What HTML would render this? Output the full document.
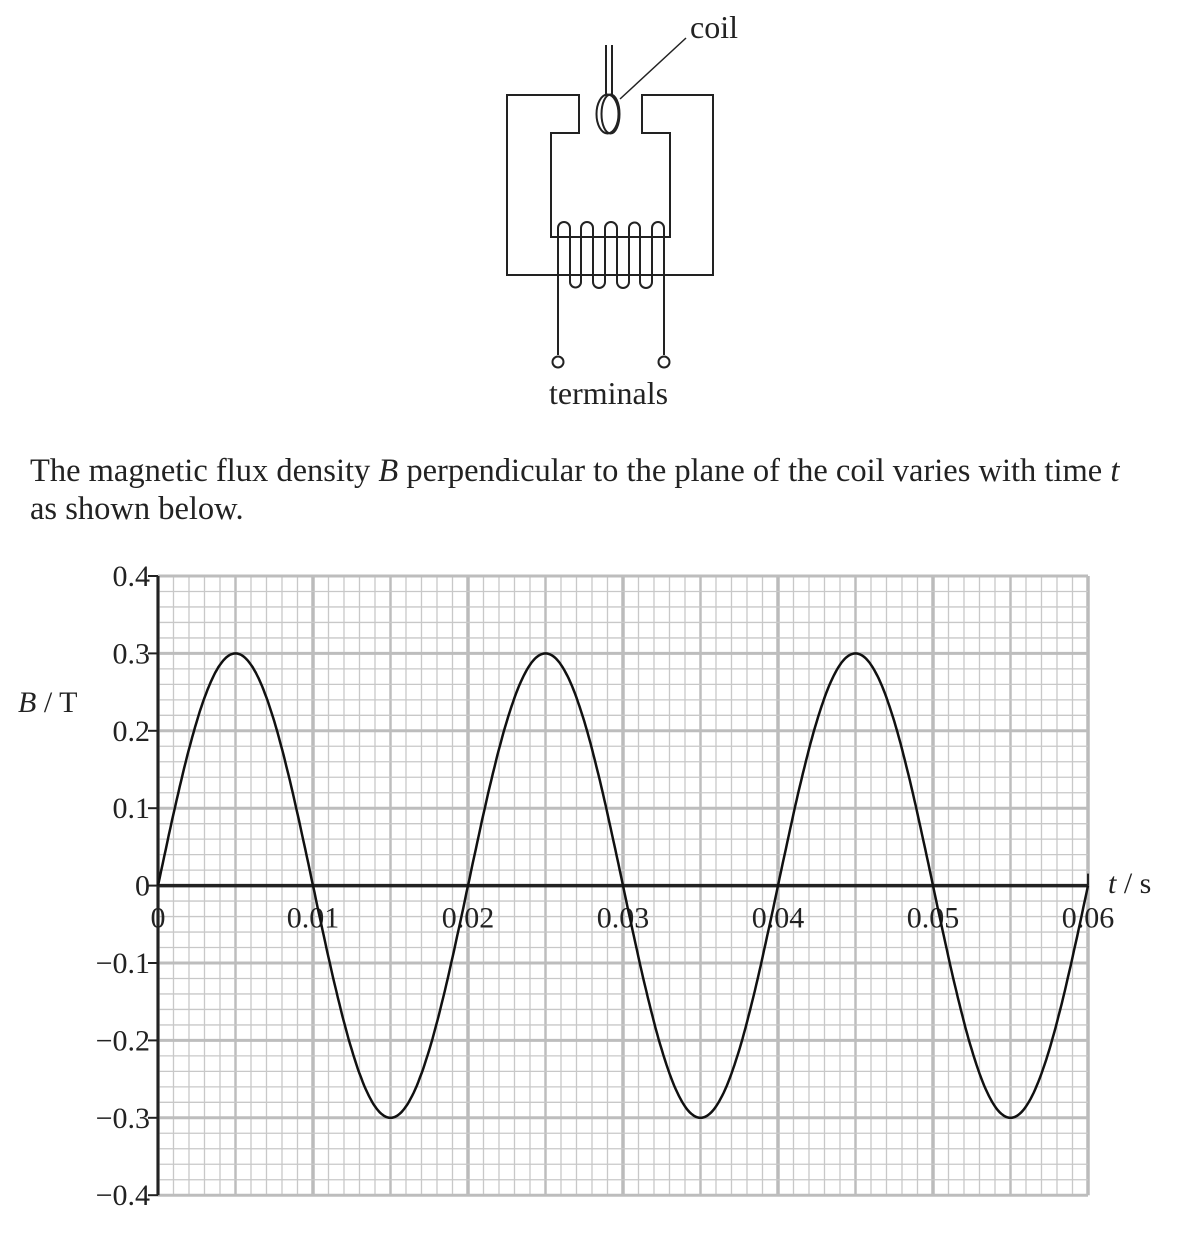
<!DOCTYPE html>
<html><head><meta charset="utf-8"><style>
body{margin:0;background:#fff;width:1190px;height:1234px;overflow:hidden}
svg{display:block}
text{font-family:"Liberation Serif",serif;fill:#222}
</style></head><body>
<svg id="s" width="1190" height="1234" xmlns="http://www.w3.org/2000/svg">
<g fill="none" stroke="#222" stroke-width="2">
<path d="M507 95 H579 V133 H551 V237 H670 V133 H642 V95 H713 V275 H507 Z"/>
<line x1="606" y1="45" x2="606" y2="96"/><line x1="612" y1="45" x2="612" y2="96"/>
<ellipse cx="607.5" cy="114" rx="11" ry="19.5"/><ellipse cx="610.5" cy="114" rx="9" ry="19.5"/>
<line x1="620" y1="99" x2="686" y2="38" stroke-width="1.5"/>
<path d="M558 355 V228 A6 6 0 0 1 570 228 V282 A5.5 5.5 0 0 0 581 282 V228 A6 6 0 0 1 593 228 V282 A6 6 0 0 0 605 282 V228 A6 6 0 0 1 617 228 V282 A6 6 0 0 0 629 282 V228 A5.5 5.5 0 0 1 640 228 V282 A6 6 0 0 0 652 282 V228 A6 6 0 0 1 664 228 V355"/>
<circle cx="558" cy="362" r="5.5" fill="#fff"/><circle cx="664" cy="362" r="5.5" fill="#fff"/>
</g>
<text x="690" y="38" font-size="32">coil</text>
<text x="549" y="404" font-size="32">terminals</text>
<text x="30" y="481" font-size="32.5">The magnetic flux density <tspan font-style="italic">B</tspan> perpendicular to the plane of the coil varies with time <tspan font-style="italic">t</tspan></text>
<text x="30" y="519" font-size="32.5">as shown below.</text>
<g id="grid"></g>
<g id="lab" font-size="30"></g>
<text x="18" y="712" font-size="30"><tspan font-style="italic">B</tspan> / T</text>
<text x="1108" y="893" font-size="30"><tspan font-style="italic">t</tspan> / s</text>
<path id="curve" fill="none" stroke="#111" stroke-width="2.5"/>
</svg>
<script>
var ns="http://www.w3.org/2000/svg",g=document.getElementById('grid'),lab=document.getElementById('lab');
function el(p,t,a){var e=document.createElementNS(ns,t);for(var k in a)e.setAttribute(k,a[k]);p.appendChild(e);return e}
var x0=158,dx=15.5,y0=576,dy=15.48;
for(var i=0;i<=60;i++){var x=x0+i*dx,w=1.3,c="#c8c8c8";if(i%5==0){w=2.5;c="#bdbdbd"}if(i%10==0){w=3.5;c="#bbb"}
el(g,'line',{x1:x,y1:y0,x2:x,y2:y0+40*dy,stroke:c,'stroke-width':w})}
for(var j=0;j<=40;j++){var y=y0+j*dy,w=1.3,c="#c8c8c8";if(j%5==0){w=3;c="#bdbdbd"}
el(g,'line',{x1:x0,y1:y,x2:x0+60*dx,y2:y,stroke:c,'stroke-width':w})}
el(g,'line',{x1:x0,y1:y0,x2:x0,y2:y0+40*dy,stroke:'#222','stroke-width':3});
el(g,'line',{x1:x0,y1:y0+20*dy,x2:x0+60*dx,y2:y0+20*dy,stroke:'#222','stroke-width':3.5});
el(g,'line',{x1:x0+60*dx,y1:y0+20*dy-12,x2:x0+60*dx,y2:y0+20*dy,stroke:'#222','stroke-width':2});
var yl=["0.4","0.3","0.2","0.1","0","\u22120.1","\u22120.2","\u22120.3","\u22120.4"];
for(var k=0;k<9;k++){var y=y0+k*5*dy;el(g,'line',{x1:x0-10,y1:y,x2:x0,y2:y,stroke:'#222','stroke-width':2});
var t=el(lab,'text',{x:x0-8,y:y+10,'text-anchor':'end'});t.textContent=yl[k]}
var xl=["0","0.01","0.02","0.03","0.04","0.05","0.06"];
for(var k=0;k<7;k++){var t=el(lab,'text',{x:x0+k*10*dx,y:y0+20*dy+42,'text-anchor':'middle'});t.textContent=xl[k]}
var d="",A=0.3*5*dy/0.1;for(var i=0;i<=600;i++){var x=x0+i*dx/10,y=y0+20*dy-A*Math.sin(2*Math.PI*i/200);d+=(i?"L":"M")+x.toFixed(1)+" "+y.toFixed(1)}
document.getElementById('curve').setAttribute('d',d);
</script>
</body></html>
